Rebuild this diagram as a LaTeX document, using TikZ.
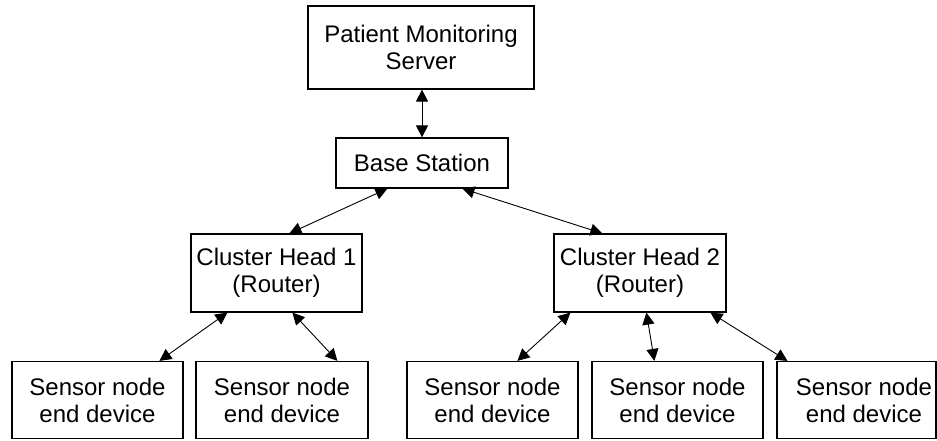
\documentclass[tikz,border=0pt]{standalone}
\usepackage{fontspec}
\setmainfont{Liberation Sans}
\usetikzlibrary{arrows.meta,calc}
\begin{document}
\begin{tikzpicture}[x=1pt,y=-1pt,
  box/.style={draw, line width=1.2pt, inner sep=0pt, align=center, font=\fontsize{24}{27}\selectfont},
  lbl/.style={inner sep=0pt, align=center, font=\fontsize{24}{27}\selectfont},
  link/.style={line width=0.9pt, {Triangle[length=12pt,width=12pt]}-{Triangle[length=12pt,width=12pt]}}]
\useasboundingbox[fill=white] (0,0) rectangle (937,441);
\node[box, minimum width=226pt, minimum height=83pt] (pms) at (421,47.5) {Patient Monitoring\\Server};
\node[box, minimum width=172pt, minimum height=50pt] (bs) at (422,163) {Base Station};
\node[box, minimum width=171pt, minimum height=78pt] (ch1) at (276.5,273) {Cluster Head 1\\(Router)};
\node[box, minimum width=172pt, minimum height=78pt] (ch2) at (640,273) {Cluster Head 2\\(Router)};
\node[box, minimum width=171pt, minimum height=77pt] (s1) at (97.5,400) {Sensor node\\end device};
\node[box, minimum width=172pt, minimum height=77pt] (s2) at (282,400) {Sensor node\\end device};
\node[box, minimum width=171pt, minimum height=77pt] (s3) at (492.5,400) {Sensor node\\end device};
\node[box, minimum width=171pt, minimum height=77pt] (s4) at (677.5,400) {Sensor node\\end device};
\node[box, minimum width=159pt, minimum height=77pt] (s5) at (856.5,400) {};
\node[lbl] (s5t) at (864,400) {Sensor node\\end device};
\draw[link] (bs.north |- pms.south) -- (bs.north);
\draw[link] ([xshift=99pt]ch1.north west) -- ([xshift=52pt]bs.south west);
\draw[link] ([xshift=127pt]bs.south west) -- ([xshift=49pt]ch2.north west);
\draw[link] ([xshift=37pt]ch1.south west) -- ([xshift=148pt]s1.north west);
\draw[link] ([xshift=102pt]ch1.south west) -- ([xshift=142pt]s2.north west);
\draw[link] ([xshift=17pt]ch2.south west) -- ([xshift=111pt]s3.north west);
\draw[link] ([xshift=93pt]ch2.south west) -- ([xshift=63pt]s4.north west);
\draw[link] ([xshift=157pt]ch2.south west) -- ([xshift=11pt]s5.north west);
\end{tikzpicture}
\end{document}
